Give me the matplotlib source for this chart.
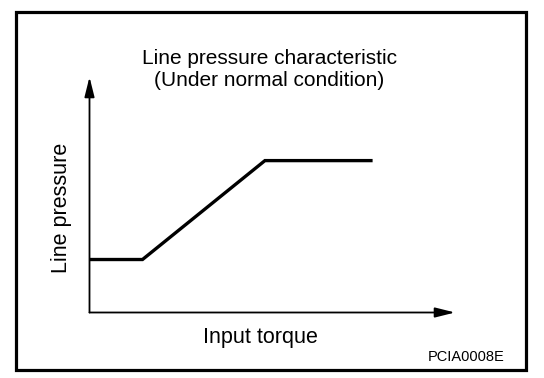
import matplotlib

matplotlib.use("Agg")
import matplotlib.pyplot as plt
from matplotlib.patches import Rectangle

# schematic curve (normalised units)
torque = [0.0, 0.145, 0.48, 0.77]
pressure = [0.225, 0.225, 0.645, 0.645]

TITLE = "Line pressure characteristic\n(Under normal condition)"
XLABEL = "Input torque"
YLABEL = "Line pressure"
CODE = "PCIA0008E"

W, H = 544, 378
plt.rcParams["font.family"] = ["Liberation Sans", "DejaVu Sans"]

fig = plt.figure(figsize=(W / 100, H / 100), dpi=100)


def px(x, y):
    return x / W, 1 - y / H


# outer frame
x0, y0 = px(15.5, 369.5)
x1, y1 = px(525.5, 11.5)
fig.patches.append(
    Rectangle((x0, y0), x1 - x0, y1 - y0, transform=fig.transFigure,
              fill=False, ec="black", lw=2.3)
)

left, bottom = px(89.5, 312.5)
right, top = px(455, 77)
ax = fig.add_axes([left, bottom, right - left, top - bottom])
ax.set_xlim(0, 1)
ax.set_ylim(0, 1)
for s in ax.spines.values():
    s.set_visible(False)
ax.set_xticks([])
ax.set_yticks([])
ax.patch.set_alpha(0)

arrow = dict(arrowstyle="-|>,head_length=1.2,head_width=0.3", color="black",
             lw=1.3, shrinkA=0, shrinkB=0)
ax.annotate("", xy=(1, 0), xytext=(0, 0), xycoords="axes fraction",
            arrowprops=arrow)
ax.annotate("", xy=(0, 1), xytext=(0, 0), xycoords="axes fraction",
            arrowprops=arrow)

ax.plot(torque, pressure, color="black", lw=2.4, solid_joinstyle="miter")

fig.text(*px(269, 69), TITLE, ha="center", va="center", fontsize=15,
         linespacing=1.2)
fig.text(*px(260, 337), XLABEL, ha="center", va="center", fontsize=15.5)
fig.text(*px(62, 208), YLABEL, ha="center", va="center", fontsize=15.5,
         rotation=90)
fig.text(*px(466, 357), CODE, ha="center", va="center", fontsize=10.5)

fig.savefig("out.png", dpi=100)
